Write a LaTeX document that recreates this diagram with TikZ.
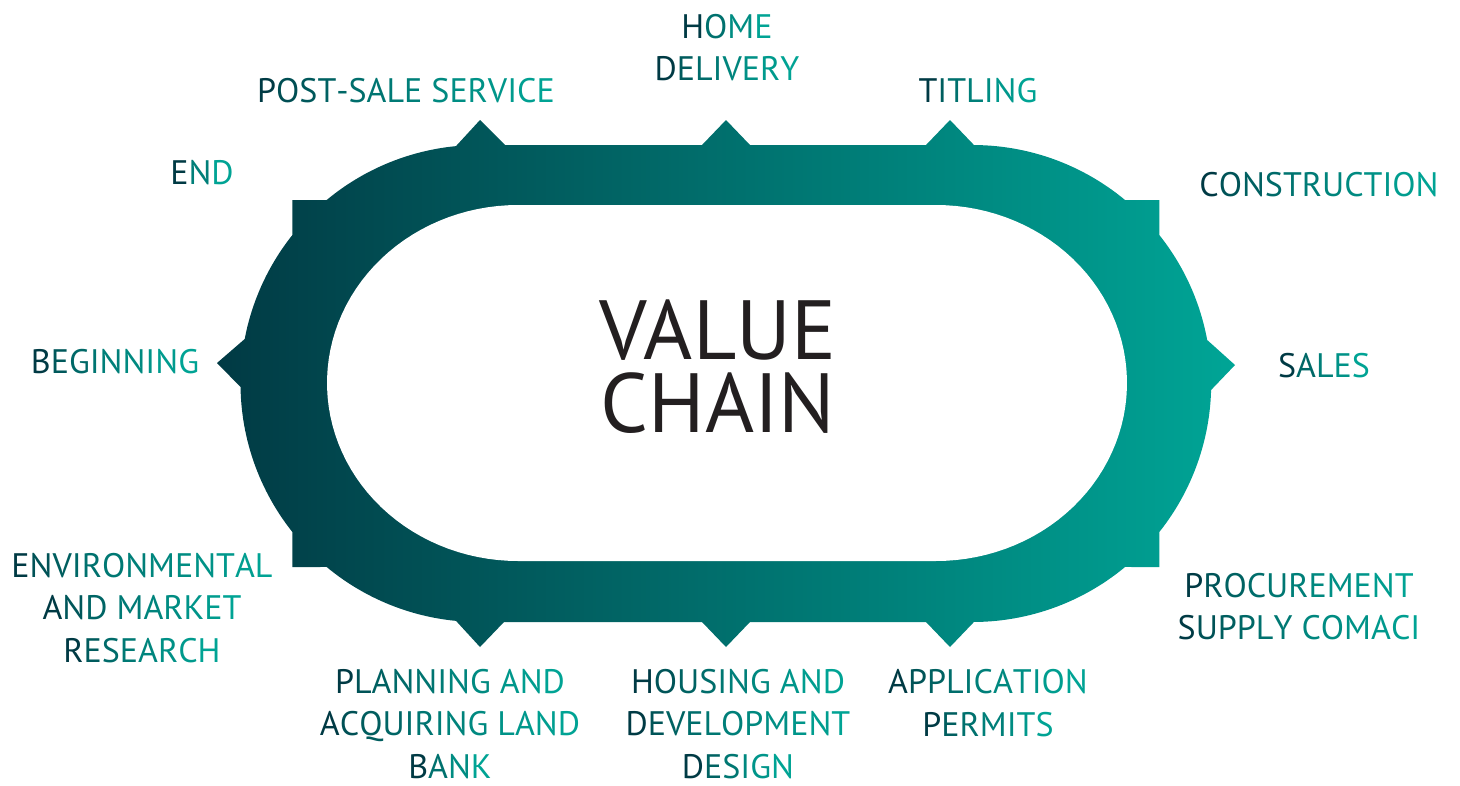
\documentclass[tikz,border=0pt]{standalone}
\usepackage{fontspec}
\setmainfont{PT Sans}

\definecolor{ringA}{RGB}{1,58,68}
\definecolor{ringB}{RGB}{0,165,150}
\definecolor{txtA}{RGB}{0,58,68}
\definecolor{txtB}{RGB}{0,163,148}
\definecolor{ink}{RGB}{35,31,32}

% letter-by-letter colour ramp from txtA (first letter) to txtB (last letter)
\ExplSyntaxOn
\int_new:N \l_vc_len_int
\int_new:N \l_vc_idx_int
\NewDocumentCommand \gradtext { m }
  {
    \int_set:Nn \l_vc_len_int { \str_count:n {#1} }
    \int_zero:N \l_vc_idx_int
    \str_map_inline:nn {#1}
      {
        \use:e
          {
            \exp_not:N \textcolor
              { txtB ! \fp_eval:n { round ( 100 * ( \l_vc_idx_int / max ( \l_vc_len_int - 1 , 1 ) ) ^ 0.6 ) } ! txtA }
          }
          { {} ##1 }
        \int_incr:N \l_vc_idx_int
      }
  }
\ExplSyntaxOff

\tikzset{
  lbl/.style={font=\fontsize{34}{42.5}\selectfont, align=center, inner sep=0pt},
  title/.style={font=\fontsize{84}{73}\selectfont, align=center, inner sep=0pt, text=ink},
}

\begin{document}
\begin{tikzpicture}[x=1pt,y=-1pt]
\useasboundingbox (0,0) rectangle (1460,785);

% outer ring outline with corner steps and pointed tabs
\shade[left color=ringA, right color=ringB]
  (456,146.1)
  -- plot[domain=264.47:230.30, samples=30, variable=\t] ({479+238.5*cos(\t)},{383.5+238.5*sin(\t)})
  -- (292.4,200) -- (292.4,235)
  -- plot[domain=218.51:190.75, samples=30, variable=\t] ({479+238.5*cos(\t)},{383.5+238.5*sin(\t)})
  -- (217,363)
  -- plot[domain=179.16:141.49, samples=30, variable=\t] ({479+238.5*cos(\t)},{383.5+238.5*sin(\t)})
  -- (292.4,567)
  -- plot[domain=129.70:95.53, samples=30, variable=\t] ({479+238.5*cos(\t)},{383.5+238.5*sin(\t)})
  -- (480,647) -- (504,622)
  -- (702,622) -- (726,647) -- (750,622)
  -- (926,622) -- (950,647)
  -- plot[domain=89.7:50.30, samples=30, variable=\t] ({972.7+238.5*cos(\t)},{383.5+238.5*sin(\t)})
  -- (1159.3,567)
  -- plot[domain=38.51:1.56, samples=30, variable=\t] ({972.7+238.5*cos(\t)},{383.5+238.5*sin(\t)})
  -- (1235,365)
  -- plot[domain=-10.51:-38.51, samples=30, variable=\t] ({972.7+238.5*cos(\t)},{383.5+238.5*sin(\t)})
  -- (1159.3,200)
  -- plot[domain=-50.30:-89.7, samples=30, variable=\t] ({972.7+238.5*cos(\t)},{383.5+238.5*sin(\t)})
  -- (950,120) -- (926,145)
  -- (750,145) -- (726,120) -- (702,145)
  -- (505,145) -- (480,120) -- cycle;

% inner opening
\fill[white] (518,205) -- (936,205)
  -- plot[domain=-90:90, samples=60, variable=\t] ({936+191*cos(\t)},{383+178*sin(\t)})
  -- (518,561)
  -- plot[domain=90:270, samples=60, variable=\t] ({518+191*cos(\t)},{383+178*sin(\t)})
  -- cycle;

\node[title] (vc) at (718,366.5) {VALUE\\CHAIN};

\node[lbl] (post)   at (406,91)    {\gradtext{POST-SALE SERVICE}};
\node[lbl] (home)   at (727,47.5)  {\gradtext{HOME}\\\gradtext{DELIVERY}};
\node[lbl] (title)  at (978,91)    {\gradtext{TITLING}};
\node[lbl] (end)    at (202,173)   {\gradtext{END}};
\node[lbl] (constr) at (1319,185)  {\gradtext{CONSTRUCTION}};
\node[lbl] (begin)  at (115,362)   {\gradtext{BEGINNING}};
\node[lbl] (sales)  at (1324,366)  {\gradtext{SALES}};
\node[lbl] (env)    at (142,608)   {\gradtext{ENVIRONMENTAL}\\\gradtext{AND MARKET}\\\gradtext{RESEARCH}};
\node[lbl] (proc)   at (1299,606.5){\gradtext{PROCUREMENT}\\\gradtext{SUPPLY COMACI}};
\node[lbl] (plan)   at (450,724)   {\gradtext{PLANNING AND}\\\gradtext{ACQUIRING LAND}\\\gradtext{BANK}};
\node[lbl] (house)  at (738,724)   {\gradtext{HOUSING AND}\\\gradtext{DEVELOPMENT}\\\gradtext{DESIGN}};
\node[lbl] (appl)   at (988,703)   {\gradtext{APPLICATION}\\\gradtext{PERMITS}};
\end{tikzpicture}
\end{document}
